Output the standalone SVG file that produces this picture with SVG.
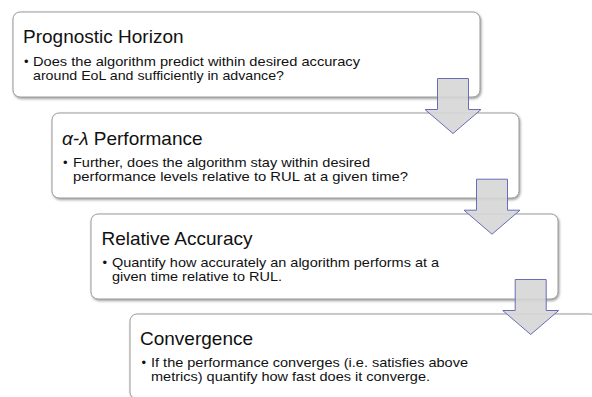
<svg xmlns="http://www.w3.org/2000/svg" width="592" height="397" viewBox="0 0 592 397">
<style>
.box{fill:#ffffff;stroke:#9a9a9a;stroke-width:1;filter:url(#sh)}
.title{font-family:"Liberation Sans",Arial,sans-serif;font-size:19px;fill:#111111}
.body{font-family:"Liberation Sans",Arial,sans-serif;font-size:13px;fill:#111111}
.arrow{fill:#d6d6d6;fill-opacity:0.9;stroke:#6a6cb8;stroke-width:1;stroke-linejoin:miter}
</style>
<defs>
<filter id="sh" x="-5%" y="-10%" width="110%" height="125%">
<feDropShadow dx="1" dy="1.5" stdDeviation="0.9" flood-color="#505050" flood-opacity="0.55"/>
</filter>
<path id="arr" d="M0,0 H31 V31 H43.5 L15.5,55 L-12.5,31 H0 Z"/>
</defs>
<rect width="592" height="397" fill="#ffffff"/>
<g id="node-prognostic-horizon">
<rect class="box" x="13" y="12" width="467" height="85" rx="7"/>
<text class="title" x="23" y="43">Prognostic Horizon</text>
<text class="body" x="24" y="66">•</text>
<text class="body" x="33" y="66" textLength="327" lengthAdjust="spacingAndGlyphs">Does the algorithm predict within desired accuracy</text>
<text class="body" x="33" y="80" textLength="251" lengthAdjust="spacingAndGlyphs">around EoL and sufficiently in advance?</text>
</g>
<g id="node-alpha-lambda">
<rect class="box" x="52" y="113" width="467" height="85" rx="7"/>
<text class="title" x="62" y="145"><tspan font-style="italic">α-λ</tspan> Performance</text>
<text class="body" x="63" y="166.5">•</text>
<text class="body" x="73" y="166.5" textLength="297" lengthAdjust="spacingAndGlyphs">Further, does the algorithm stay within desired</text>
<text class="body" x="73" y="180.5" textLength="335" lengthAdjust="spacingAndGlyphs">performance levels relative to RUL at a given time?</text>
</g>
<g id="node-relative-accuracy">
<rect class="box" x="91" y="214" width="467" height="85" rx="7"/>
<text class="title" x="101.5" y="245">Relative Accuracy</text>
<text class="body" x="102.5" y="266.5">•</text>
<text class="body" x="112" y="266.5" textLength="327" lengthAdjust="spacingAndGlyphs">Quantify how accurately an algorithm performs at a</text>
<text class="body" x="112" y="280.5" textLength="170" lengthAdjust="spacingAndGlyphs">given time relative to RUL.</text>
</g>
<g id="node-convergence">
<rect class="box" x="130" y="314" width="467" height="85" rx="7"/>
<text class="title" x="140" y="345">Convergence</text>
<text class="body" x="141.5" y="366.5">•</text>
<text class="body" x="151" y="366.5" textLength="317" lengthAdjust="spacingAndGlyphs">If the performance converges (i.e. satisfies above</text>
<text class="body" x="151" y="380.5" textLength="279" lengthAdjust="spacingAndGlyphs">metrics) quantify how fast does it converge.</text>
</g>
<g id="connectors">
<use href="#arr" class="arrow" x="437.5" y="78.5"/>
<use href="#arr" class="arrow" x="476.5" y="179.2"/>
<use href="#arr" class="arrow" x="515.2" y="279.5"/>
</g>
</svg>
